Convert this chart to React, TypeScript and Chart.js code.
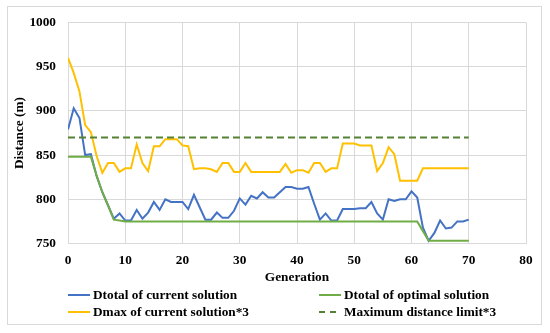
import React, { useEffect, useRef } from 'react';
import { Chart, registerables } from 'chart.js';

Chart.register(...registerables);

const generations = [
  0, 1, 2, 3, 4, 5, 6, 7, 8, 9, 10, 11, 12, 13, 14, 15, 16, 17, 18, 19, 20,
  21, 22, 23, 24, 25, 26, 27, 28, 29, 30, 31, 32, 33, 34, 35, 36, 37, 38, 39, 40,
  41, 42, 43, 44, 45, 46, 47, 48, 49, 50, 51, 52, 53, 54, 55, 56, 57, 58, 59, 60,
  61, 62, 63, 64, 65, 66, 67, 68, 69, 70,
];

const dtotalCurrent = [
  879, 903, 892, 850, 851, 826, 808, 793, 778, 784, 776,
  776, 788, 778, 785, 797, 788, 800, 797, 797, 797,
  789, 805, 791, 777, 777, 785, 779, 779, 787, 801,
  794, 804, 801, 808, 802, 802, 808, 814, 814, 812,
  812, 814, 795, 777, 784, 776, 776, 789, 789, 789,
  790, 790, 797, 784, 777, 800, 798, 800, 800, 809,
  802, 768, 753, 762, 776, 767, 768, 775, 775, 777,
];

const dtotalOptimal = [
  848, 848, 848, 848, 848, 827, 808, 793, 777, 776, 775,
  775, 775, 775, 775, 775, 775, 775, 775, 775, 775,
  775, 775, 775, 775, 775, 775, 775, 775, 775, 775,
  775, 775, 775, 775, 775, 775, 775, 775, 775, 775,
  775, 775, 775, 775, 775, 775, 775, 775, 775, 775,
  775, 775, 775, 775, 775, 775, 775, 775, 775, 775,
  775, 764, 753, 753, 753, 753, 753, 753, 753, 753,
];

const dmaxCurrent = [
  960, 943, 922, 884, 876, 849, 830, 841, 841, 831, 835,
  835, 862, 841, 832, 860, 860, 868, 868, 868, 861,
  860, 834, 835, 835, 834, 831, 841, 841, 831, 831,
  841, 831, 831, 831, 831, 831, 831, 840, 830, 833,
  833, 830, 841, 841, 831, 835, 835, 863, 863, 863,
  861, 861, 861, 832, 841, 859, 851, 821, 821, 821,
  821, 835, 835, 835, 835, 835, 835, 835, 835, 835,
];

const maxDistanceLimit = 870;
const limitGenerations = [0, 70];

const seriesNames = [
  'Dtotal of current solution',
  'Dtotal of optimal solution',
  'Dmax of current solution*3',
  'Maximum distance limit*3',
];
const seriesColors = ['#4472C4', '#70AD47', '#FFC000', '#548235'];

const FONT = "'Times New Roman', 'Liberation Serif', serif";
const FS = 13.3;

function LegendItem({ x, y, idx }: { x: number; y: number; idx: number }) {
  const dashed = idx === 3;
  return (
    <div
      style={{
        position: 'absolute',
        left: x,
        top: y - 9,
        height: 18,
        display: 'flex',
        alignItems: 'center',
        whiteSpace: 'nowrap',
      }}
    >
      <svg width={22} height={4} style={{ display: 'block' }}>
        <line
          x1={0}
          y1={2}
          x2={22}
          y2={2}
          stroke={seriesColors[idx]}
          strokeWidth={2}
          strokeDasharray={dashed ? '6 5' : undefined}
        />
      </svg>
      <span
        style={{
          marginLeft: 3,
          fontFamily: FONT,
          fontWeight: 'bold',
          fontSize: FS,
          color: '#000',
          lineHeight: '18px',
        }}
      >
        {seriesNames[idx]}
      </span>
    </div>
  );
}

export default function App() {
  const ref = useRef<HTMLCanvasElement>(null);

  useEffect(() => {
    if (!ref.current) return;
    const pts = (ys: number[]) => generations.map((g, i) => ({ x: g, y: ys[i] }));
    const font = { family: FONT, size: FS, weight: 'bold' as const };
    const chart = new Chart(ref.current, {
      type: 'line',
      data: {
        datasets: [
          {
            label: seriesNames[0],
            data: pts(dtotalCurrent),
            borderColor: seriesColors[0],
            borderWidth: 2,
            pointRadius: 0,
            tension: 0,
            order: 4,
          },
          {
            label: seriesNames[1],
            data: pts(dtotalOptimal),
            borderColor: seriesColors[1],
            borderWidth: 2,
            pointRadius: 0,
            tension: 0,
            order: 3,
          },
          {
            label: seriesNames[2],
            data: pts(dmaxCurrent),
            borderColor: seriesColors[2],
            borderWidth: 2,
            pointRadius: 0,
            tension: 0,
            order: 2,
          },
          {
            label: seriesNames[3],
            data: limitGenerations.map((g) => ({ x: g, y: maxDistanceLimit })),
            borderColor: seriesColors[3],
            borderWidth: 2,
            borderDash: [7, 4],
            pointRadius: 0,
            order: 1,
          },
        ],
      },
      options: {
        responsive: false,
        animation: false,
        devicePixelRatio: 1,
        layout: { padding: { left: 0, right: 24, top: 22.5, bottom: 39.5 } },
        plugins: { legend: { display: false }, tooltip: { enabled: false } },
        scales: {
          x: {
            type: 'linear',
            min: 0,
            max: 80,
            ticks: {
              stepSize: 10,
              padding: 9,
              color: '#000',
              font,
              callback: (v: any) => String(v),
            },
            grid: { color: '#d9d9d9', drawTicks: false },
            border: { color: '#d9d9d9' },
            title: {
              display: true,
              text: 'Generation',
              color: '#000',
              font,
              padding: { top: 0, bottom: 7.5 },
            },
            afterFit: (s: any) => {
              s.height = 50;
            },
          },
          y: {
            type: 'linear',
            min: 750,
            max: 1000,
            ticks: {
              stepSize: 50,
              padding: 12,
              color: '#000',
              font,
              callback: (v: any) => String(v),
            },
            grid: { color: '#d9d9d9', drawTicks: false },
            border: { color: '#d9d9d9' },
            title: {
              display: true,
              text: 'Distance (m)',
              color: '#000',
              font,
              padding: { top: 12, bottom: 0 },
            },
            afterFit: (s: any) => {
              s.width = 68;
            },
          },
        },
      },
    });
    return () => chart.destroy();
  }, []);

  return (
    <div
      style={{
        position: 'absolute',
        left: 0,
        top: 0,
        width: 550,
        height: 333,
        background: '#fff',
        overflow: 'hidden',
      }}
    >
      <canvas ref={ref} width={550} height={333} style={{ position: 'absolute', left: 0, top: 0 }} />
      <div
        style={{
          position: 'absolute',
          left: 7,
          top: 6,
          width: 533,
          height: 317,
          border: '1px solid #d9d9d9',
          pointerEvents: 'none',
        }}
      />
      <LegendItem x={68} y={295} idx={0} />
      <LegendItem x={319} y={295} idx={1} />
      <LegendItem x={68} y={312} idx={2} />
      <LegendItem x={319} y={312} idx={3} />
    </div>
  );
}
